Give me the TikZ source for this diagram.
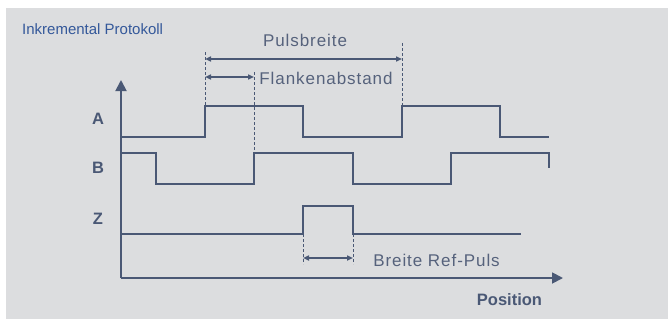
\documentclass[tikz,border=0pt]{standalone}
\usepackage{fontspec}
\setmainfont{Liberation Sans}
\usetikzlibrary{arrows.meta}
\definecolor{bg}{HTML}{DCDDDF}
\definecolor{ln}{HTML}{4A5875}
\definecolor{tx}{HTML}{56627C}
\definecolor{ttl}{HTML}{34589A}
\tikzset{
  sig/.style={draw=ln, line width=1.8pt, line join=miter},
  axis/.style={draw=ln, line width=1.8pt, -{Triangle[length=11pt,width=11pt]}},
  dim/.style={draw=ln, line width=1.6pt, {Triangle[length=6pt,width=5pt]}-{Triangle[length=6pt,width=5pt]}},
  guide/.style={draw=ln, line width=0.7pt, dash pattern=on 3pt off 2pt},
  lbl/.style={text=tx, font=\fontsize{17}{19}\selectfont\addfontfeature{LetterSpace=5.5}, inner sep=0pt, anchor=base},
  signame/.style={text=ln, font=\fontsize{16.5}{18}\selectfont\bfseries, inner sep=0pt, anchor=base},
}
\begin{document}
\begin{tikzpicture}[x=1pt,y=-1pt]
\useasboundingbox (0,0) rectangle (668,321);
\fill[bg] (6,8) rectangle (668,319);
\node[text=ttl, font=\fontsize{15}{17}\selectfont, inner sep=0pt, anchor=base west] (title) at (22,35) {Inkremental Protokoll};
% axes
\coordinate (o) at (121,278);
\coordinate (ytip) at (121,80);
\coordinate (xtip) at (563,278);
\draw[axis] (o) -- (ytip);
\draw[axis] (o) -- (xtip);
% signal names
\node[signame] (la) at (98,124) {A};
\node[signame] (lb) at (98,173) {B};
\node[signame] (lz) at (98,224) {Z};
% signal A
\draw[sig] (121,137) -- (205,137) -- (205,106) -- (303,106) -- (303,137) -- (402,137) -- (402,106) -- (500,106) -- (500,137) -- (549,137);
% signal B
\draw[sig] (121,153) -- (156,153) -- (156,184) -- (254,184) -- (254,153) -- (353,153) -- (353,184) -- (451,184) -- (451,153) -- (549,153) -- (549,168);
% signal Z
\draw[sig] (121,234) -- (303,234) -- (303,206) -- (353,206) -- (353,234) -- (521,234);
% guides
\coordinate (g1t) at (205,52);  \coordinate (g1b) at (205,106);
\coordinate (g2t) at (254,72);  \coordinate (g2b) at (254,153);
\coordinate (g3t) at (402,43);  \coordinate (g3b) at (402,106);
\coordinate (g4t) at (303,234); \coordinate (g4b) at (303,264);
\coordinate (g5t) at (353,234); \coordinate (g5b) at (353,264);
\draw[guide] (g1t) -- (g1b);
\draw[guide] (g2t) -- (g2b);
\draw[guide] (g3t) -- (g3b);
\draw[guide] (g4t) -- (g4b);
\draw[guide] (g5t) -- (g5b);
% dimension arrows
\coordinate (p1) at (205,59); \coordinate (p2) at (402,59);
\coordinate (f1) at (205,77); \coordinate (f2) at (254,77);
\coordinate (r1) at (303,258); \coordinate (r2) at (353,258);
\draw[dim] (p1) -- (p2);
\draw[dim] (f1) -- (f2);
\draw[dim] (r1) -- (r2);
% labels
\node[lbl] (pb) at (305,46) {Pulsbreite};
\node[lbl] (fa) at (326,84) {Flankenabstand};
\node[lbl] (rp) at (436.5,266) {Breite Ref-Puls};
\node[signame] (pos) at (509.5,305) {Position};
\end{tikzpicture}
\end{document}
